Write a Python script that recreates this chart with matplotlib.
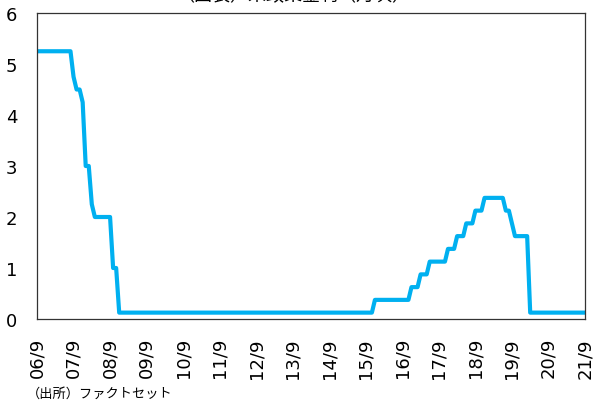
import numpy as np
import matplotlib
matplotlib.use('Agg')
import matplotlib.pyplot as plt

plt.rcParams['font.family'] = ['DejaVu Sans', 'Noto Sans CJK JP']

# US policy rate, monthly (range midpoint), Sep 2006 - Sep 2021
# each level held for the given number of months
rate_levels = [5.25, 4.75, 4.50, 4.25, 3.00, 2.25, 2.00, 1.00, 0.125,
               0.375, 0.625, 0.875, 1.125, 1.375, 1.625, 1.875, 2.125,
               2.375, 2.125, 1.875, 1.625, 0.125]
level_months = [12, 1, 2, 1, 2, 1, 6, 2, 84,
                12, 3, 3, 6, 3, 3, 3, 3,
                7, 2, 1, 5, 19]
tick_labels = ['06/9', '07/9', '08/9', '09/9', '10/9', '11/9', '12/9', '13/9',
               '14/9', '15/9', '16/9', '17/9', '18/9', '19/9', '20/9', '21/9']

rate = np.repeat(rate_levels, level_months)
months = np.arange(len(rate))

fig = plt.figure(figsize=(5.93, 4.02), dpi=100)
ax = fig.add_axes([37 / 593, 1 - 320 / 402, 548 / 593, 306 / 402])

ax.plot(months, rate, color='#00B0F0', lw=3.0, solid_joinstyle='round')

ax.set_xlim(0, len(rate) - 1)
ax.set_ylim(0, 6)
ax.set_yticks(range(0, 7))
ax.set_xticks(months[::12])
ax.set_xticklabels(tick_labels, rotation=90)
ax.tick_params(length=0, labelsize=13, colors='black')
ax.tick_params(axis='y', pad=14)
ax.tick_params(axis='x', pad=13)
for s in ax.spines.values():
    s.set_color('#333333')
    s.set_linewidth(0.9)

fig.text(0.495, 0.987, '（図表）米政策金利（月次）', ha='center', va='bottom',
         fontsize=13, family=['Noto Sans CJK JP'])
fig.text(0.045, 0.004, '（出所）ファクトセット', ha='left', va='bottom',
         fontsize=9.5, family=['Noto Sans CJK JP'])

fig.savefig('out.png', dpi=100)
